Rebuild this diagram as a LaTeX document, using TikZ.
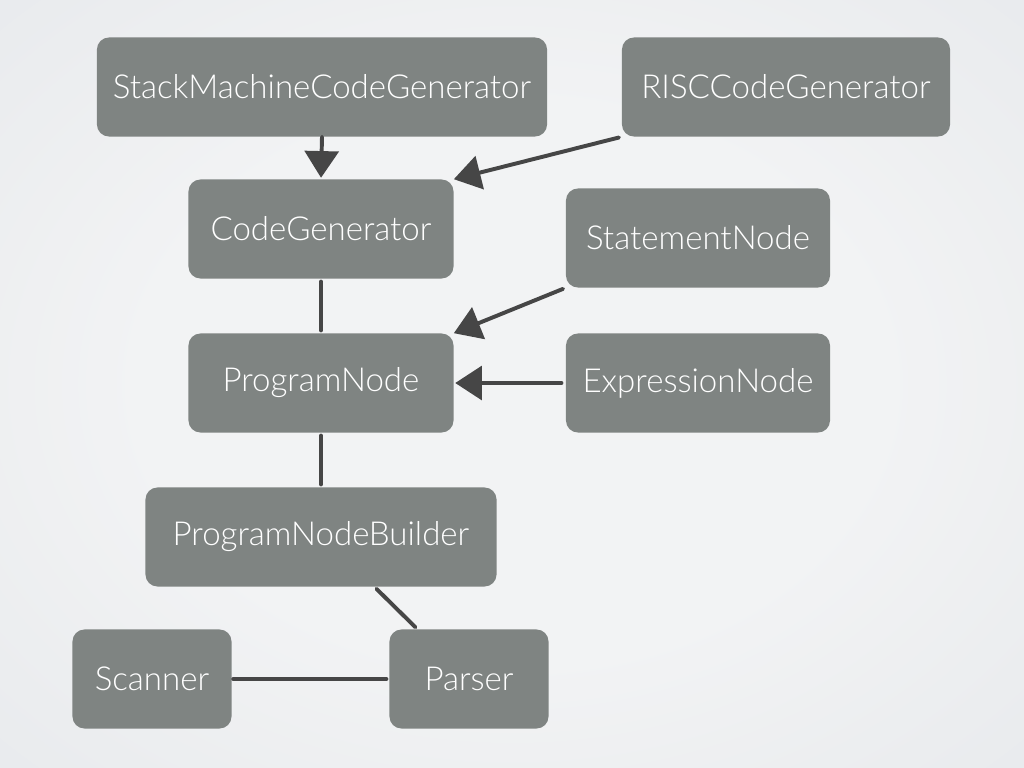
\documentclass[tikz,border=0pt]{standalone}
\usepackage{fontspec}
\setmainfont{Lato}[UprightFont=* Light]
\usetikzlibrary{arrows.meta}
\definecolor{boxgray}{RGB}{127,132,130}
\definecolor{inkgray}{RGB}{70,70,70}
\definecolor{bgin}{RGB}{242,243,244}
\definecolor{bgmid}{RGB}{225,228,232}
\definecolor{bgout}{RGB}{214,219,225}
\pgfdeclareradialshading{slidebg}{\pgfpoint{0bp}{0bp}}{color(0bp)=(bgin); color(18bp)=(bgin); color(50bp)=(bgmid); color(71bp)=(bgout)}
\begin{document}
\begin{tikzpicture}[x=0.025cm,y=-0.025cm,
  box/.style={fill=boxgray,text=white,rounded corners=0.3cm,minimum height=2.475cm,
    inner sep=0pt,font=\fontsize{23.5}{26}\selectfont},
  link/.style={draw=inkgray,line width=2.8pt,line cap=round},
  isa/.style={link,-{Triangle[length=19pt,width=24pt]}}]
  \useasboundingbox (0,0) rectangle (1024,768);
  \shade[shading=slidebg] (0,0) rectangle (1024,768);
  % Generators
  \node[box,minimum width=11.25cm] (smcg) at (322,87) {StackMachineCodeGenerator};
  \node[box,minimum width=8.2cm] (risc) at (786,87) {RISCCodeGenerator};
  \node[box,minimum width=6.625cm] (cg) at (321,229) {CodeGenerator};
  % Nodes
  \node[box,minimum width=6.6cm] (stmt) at (698,238) {StatementNode};
  \node[box,minimum width=6.625cm] (pn) at (321,383) {ProgramNode};
  \node[box,minimum width=6.6cm] (expr) at (698,383) {ExpressionNode};
  \node[box,minimum width=8.775cm] (pnb) at (321,537) {ProgramNodeBuilder};
  % Front end
  \node[box,minimum width=3.975cm] (scan) at (152,679) {Scanner};
  \node[box,minimum width=3.975cm] (parse) at (469,679) {Parser};
  % Connectors
  \draw[isa,shorten >=1pt] (smcg.south) -- (cg.north);
  \draw[isa,shorten <=2pt] (risc.south west) -- (cg.north east);
  \draw[link,shorten <=2pt,shorten >=2pt] (cg.south) -- (pn.north);
  \draw[isa,shorten <=2pt] (stmt.south west) -- (pn.north east);
  \draw[isa,shorten <=3pt,shorten >=1pt] (expr.west) -- (pn.east);
  \draw[link,shorten <=2pt,shorten >=2pt] (pn.south) -- (pnb.north);
  \draw[link,shorten <=2pt,shorten >=2pt] (pnb.-43) -- (parse.136);
  \draw[link,shorten <=1pt,shorten >=2pt] (scan.east) -- (parse.west);
\end{tikzpicture}
\end{document}
